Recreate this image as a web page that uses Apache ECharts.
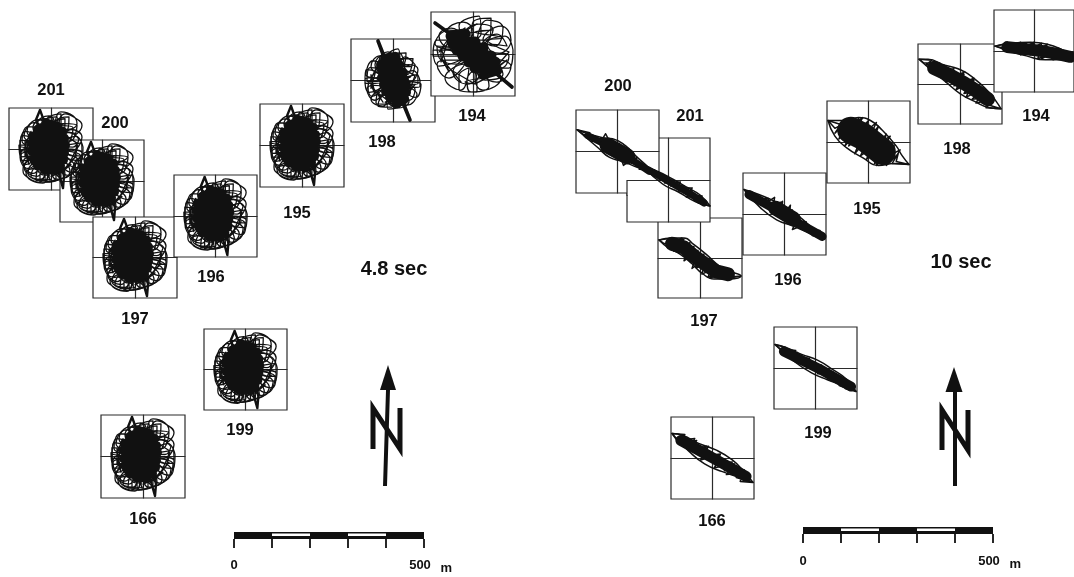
<!DOCTYPE html>
<html>
<head>
<meta charset="utf-8">
<style>html,body{margin:0;padding:0;background:#fff}#c{width:1074px;height:577px}</style>
<script src="https://cdn.jsdelivr.net/npm/echarts@6/dist/echarts.min.js"></script>
</head>
<body>
<div id="c"></div>
<script>
// ---------- values (x, y pairs, east / north) ----------
const blobRingOuter = [32,2,25,13,13,6,20,-2,31,12,20,20,10,10,19,8,26,24,13,26,6,14,15,16,18,33,5,29,2,15,10,22,10,36,-4,30,-3,14,4,24,-2,34,-14,25,-8,12,-4,22,-13,30,-24,18,-11,7,-12,18,-23,23,-29,8,-13,3,-19,11,-29,14,-31,-2,-14,-2,-21,4,-32,4,-28,-12,-13,-6,-22,-3,-31,-8,-23,-20,-10,-10,-20,-11,-27,-19,-14,-28,-6,-13,-15,-17,-20,-28,-5,-32,-2,-15,-11,-23,-11,-34,5,-30,3,-14,-2,-24,0,-33,14,-26,8,-11,5,-22,11,-30,24,-18,11,-7,13,-19,22,-24,30,-8,13,-2,20,-11,30,-12,32,2];
const blobRingInner = [28,10,18,17,8,8,16,6,22,22,9,24,3,12,12,13,14,31,2,26,-1,12,7,18,6,33,-8,27,-5,11,1,20,-6,31,-18,22,-9,9,-8,20,-17,27,-27,13,-12,5,-16,14,-26,18,-31,3,-13,1,-20,7,-31,9,-30,-8,-13,-4,-21,1,-30,-4,-26,-16,-12,-8,-21,-8,-28,-14,-18,-25,-8,-12,-17,-14,-23,-25,-10,-31,-4,-14,-13,-20,-15,-32,0,-31,1,-15,-6,-24,-5,-34,10,-28,6,-12,1,-23,6,-31,19,-23,10,-9,9,-20,17,-27,28,-13,12,-4,16,-15,27,-19,31,-4,13,0,21,-7,31,-7,30,6,14,3,22,2,28,10];
const blobPetals = [24,14,31,24,24,32,14,36,8,26,16,20,26,26,22,34,10,38,4,28,0,10,-24,-12,-28,-22,-22,-30,-12,-34,-6,-24,-14,-20,-25,-24,-20,-32,-8,-35,-3,-26];
const blobMesh = [26,6,8,18,24,16,-2,24,14,26,-12,20,2,30,-20,14,-10,26,-26,4,-20,18,-26,-8,-26,8,-22,-16,-26,-4,-12,-24,-20,-14,-2,-27,-10,-26,10,-24,0,-28,20,-16,10,-24,26,-6,18,-16,27,4,24,-8,26,6];
const blobSpike = [-11,40,-15,30,-10,18,-4,6,0,0,5,-8,7,-22,12,-40,13,-28,11,-18,6,-6,0,2,-4,14,-6,26,-11,40];
const blobCore = [-5,26,6,23,-13,20,11,18,-18,13,13,11,-19,6,14,4,-19,-2,13,-4,-17,-10,12,-11,-13,-17,9,-17,-6,-21,4,-21];

const s198Ring = [27,0,20,10,10,4,16,-2,25,11,15,16,7,9,14,6,20,22,8,22,3,12,10,14,13,28,2,24,0,12,7,18,5,32,-6,24,-3,11,2,20,-5,29,-14,20,-8,8,-4,18,-13,25,-22,14,-10,5,-11,14,-20,20,-27,6,-12,2,-17,9,-27,11,-28,-3,-12,-2,-20,3,-28,1,-24,-12,-11,-6,-19,-5,-26,-9,-18,-20,-8,-9,-17,-12,-22,-19,-10,-26,-4,-12,-12,-17,-15,-26,-1,-27,0,-13,-6,-20,-5,-29,8,-24,4,-11,1,-20,4,-28,16,-21,8,-8,8,-18,14,-25,24,-14,11,-5,14,-13,23,-17,28,-4,11,-1,19,-7,27,-6,27,0];
const s198Ring2 = [22,16,12,24,5,10,12,10,6,28,-4,20,-2,8,0,16,-9,26,-18,16,-8,4,-10,10,-23,13,-26,-1,-10,0,-16,3,-25,-6,-21,-16,-8,-6,-14,-9,-17,-23,-6,-24,-2,-10,-6,-16,1,-26,11,-22,5,-8,5,-14,16,-20,22,-9,9,-2,14,-4,25,-3,24,6,10,3,16,3,22,16];
const s198Mesh = [22,5,6,14,18,14,-2,22,10,22,-10,18,-2,26,-18,10,-10,22,-22,2,-16,14,-22,-8,-22,6,-18,-14,-22,-4,-10,-22,-16,-12,0,-24,-8,-22,8,-20,2,-24,16,-14,8,-20,22,-4,16,-12,22,5];
const s198Spike = [-15,40,-8,22,0,2,8,-18,17,-40,6,-12,-4,10,-15,40];
const s198Core = [-8,22,2,24,-12,16,6,16,-11,10,10,8,-11,3,11,1,-9,-4,13,-5,-7,-11,13,-12,-3,-17,11,-19,3,-23];

const s194Ring = [40,4,32,18,14,10,24,0,38,14,28,28,10,14,22,8,30,26,14,34,4,14,16,14,18,36,0,32,-2,14,8,20,6,38,-14,28,-6,12,0,22,-10,32,-26,22,-10,8,-12,20,-24,24,-38,10,-14,4,-20,14,-36,14,-40,-2,-14,-2,-26,4,-40,4,-34,-12,-12,-6,-26,-6,-36,-10,-24,-24,-8,-10,-20,-14,-28,-24,-12,-36,-4,-14,-14,-22,-14,-36,4,-38,2,-16,-6,-26,-2,-38,16,-32,6,-12,2,-24,10,-36,28,-24,10,-8,12,-22,24,-28,38,-12,14,-4,20,-14,36,-14,40,4];
const s194Ring2 = [34,8,24,20,8,6,18,2,36,-2,28,-14,6,-4,20,-8,30,-20,12,-26,0,-6,8,-16,-6,-30,-20,-18,-4,-2,-14,-10,-32,-6,-36,8,-8,6,-22,6,-34,18,-22,26,-2,8,-10,16,6,30,20,24,4,4,14,10,34,8];
const s194Mesh = [36,2,14,14,30,16,2,22,20,24,-14,20,4,30,-26,12,-8,26,-34,2,-24,16,-32,-8,-32,6,-24,-18,-32,-4,-12,-28,-22,-16,2,-30,-8,-28,14,-24,2,-30,26,-16,12,-24,34,-6,22,-14,36,2];
const s194Spike = [-38,31,-20,18,0,0,20,-17,39,-33];
const s194Core = [-22,18,-8,20,-20,10,2,12,-16,4,10,6,-10,-2,18,-2,-4,-8,22,-8,2,-14,24,-16,10,-20];

const t200Orbit = [-41,22,-28,19,-34,16,-20,15,-26,10,-14,14,-16,4,-6,12,-8,-2,2,8,2,-6,12,2,8,-10,20,-6,14,-12,28,-14,22,-18,36,-19,30,-21,41,-24,28,-19,14,-8,6,-14,0,4,-8,10,-12,18,-18,8,-30,14,-41,22];
const t200Edge = [-41,22,-30,18,-15,14,-5,13,8,6,20,-6,41,-24,20,-16,5,-10,-8,-6,-20,4,-41,22];
const t200Core = [-30,16,-14,8,0,1,14,-8,32,-20];
const t200Hub = [-10,6,10,-5];
const t201Orbit = [-25,13,-14,10,-18,6,-4,4,-8,0,6,-1,2,-6,16,-6,10,-11,24,-11,18,-17,32,-17,26,-20,42,-26,30,-23,34,-16,20,-15,24,-8,8,-8,12,-2,-4,-3,-2,4,-18,8,-25,13];
const t201Edge = [-25,13,-12,9,4,1,20,-8,32,-15,42,-26,28,-22,10,-12,-6,-4,-25,13];
const t201Core = [-20,10,-4,1,10,-7,24,-15,36,-23];
const t197Orbit = [-41,19,-28,21,-32,14,-18,21,-26,7,-10,16,-16,-3,-2,8,-8,-11,6,0,2,-17,16,-10,10,-21,26,-15,20,-21,41,-19,24,-22,28,-14,8,-20,14,-6,-4,-10,4,4,-12,0,-6,12,-24,8,-16,20,-36,15,-41,19];
const t197Edge = [-41,19,-28,21,-16,21,-6,14,6,4,20,-9,30,-14,41,-19,28,-22,14,-22,2,-16,-8,-6,-20,4,-32,11,-41,19];
const t197Core = [-28,15,-16,11,-6,2,6,-7,16,-14,28,-17];
const t196Orbit = [-41,25,-30,19,-34,16,-18,15,-22,9,-10,17,-12,4,-2,13,-3,-3,6,9,4,-8,14,-1,8,-16,22,-10,16,-14,32,-18,26,-20,41,-25,28,-22,36,-17,18,-16,22,-8,4,-10,8,4,-6,-2,-4,12,-18,6,-16,16,-32,15,-41,25];
const t196Edge = [-41,25,-26,20,-12,14,0,8,14,-2,30,-16,41,-25,24,-19,8,-12,-8,-6,-24,6,-41,25];
const t196Core = [-36,20,-20,11,-6,3,8,-6,24,-15,38,-23];
const t196Hub = [-9,6,9,-5];
const t195Orbit = [-41,22,-28,18,-34,9,-22,21,-30,3,-10,24,-24,-4,0,22,-14,-12,10,16,-2,-18,18,8,8,-24,26,-4,18,-24,30,-12,28,-20,41,-23,24,-22,32,-8,6,-22,22,6,-8,-14,8,20,-20,-4,-6,25,-30,8,-16,24,-34,14,-41,22];
const t195Edge = [-41,22,-24,22,-10,25,2,22,14,12,28,-4,34,-14,41,-23,26,-22,10,-24,-6,-16,-22,-6,-34,6,-41,22];
const t195Core = [-18,12,-6,6,4,-2,14,-10];
const t198Orbit = [-41,26,-28,25,-34,20,-16,20,-24,12,-6,16,-14,6,4,12,-6,-2,14,6,4,-10,22,-6,12,-16,30,-14,22,-20,41,-26,26,-25,34,-16,16,-20,24,-4,6,-14,14,4,-4,-6,4,10,-14,2,-8,14,-26,12,-20,22,-36,22,-41,26];
const t198Edge = [-41,26,-32,26,-16,20,-2,16,14,6,30,-10,36,-18,41,-26,30,-25,14,-18,0,-10,-14,2,-28,14,-41,26];
const t198Core = [-26,17,-10,9,4,1,16,-7,28,-16];
const t194Orbit = [-41,5,-28,8,-30,2,-14,9,-18,0,0,9,-4,-4,14,7,8,-8,26,3,20,-9,40,-2,30,-9,42,-8,24,-8,28,2,4,-8,8,8,-14,-4,-8,8,-32,3,-41,5];
const t194Edge = [-41,5,-24,8,-4,9,14,7,30,1,42,-6,30,-9,12,-9,-8,-5,-26,0,-41,5];
const t194Core = [-28,4,-10,2,8,0,24,-3,38,-6];
const t199Orbit = [-41,24,-30,21,-32,15,-18,16,-22,9,-6,10,-10,3,6,3,2,-4,18,-4,12,-11,30,-12,24,-18,41,-24,30,-21,32,-14,16,-13,20,-6,2,-6,6,2,-12,4,-8,10,-24,12,-20,18,-36,20,-41,24];
const t199Edge = [-41,24,-30,21,-14,14,2,8,18,-2,32,-12,41,-24,28,-18,12,-12,-4,-5,-22,7,-41,24];
const t199Core = [-32,17,-14,8,4,-1,20,-10,36,-19];
const t166Orbit = [-41,25,-28,24,-33,16,-16,18,-22,8,-4,12,-10,2,8,4,2,-6,20,-4,12,-13,32,-12,24,-20,41,-25,28,-24,32,-15,14,-17,22,-6,2,-10,8,4,-12,-2,-6,12,-24,8,-18,20,-36,18,-41,25];
const t166Edge = [-41,25,-30,23,-14,15,4,8,20,-2,32,-14,41,-25,28,-20,10,-14,-8,-6,-24,7,-41,25];
const t166Core = [-32,18,-14,8,4,-2,20,-11,34,-19];

const scaleMetres = [0,100,200,300,400,500];
const scaleFilled = [[0,100],[200,300],[400,500]];
const scaleHollow = [[100,200],[300,400]];

// ---------- layout: frame [left, top, width, height], label centre, orbit lists ----------
const blobSet = {smooth:[blobRingOuter,blobRingInner,blobPetals,blobMesh], spike:blobSpike, core:blobCore, spikeW:2.4, coreW:10, thin:1.3};
const s198Set = {smooth:[s198Ring,s198Ring2,s198Mesh], spike:s198Spike, core:s198Core, spikeW:3.6, coreW:10, thin:1.3};
const s194Set = {smooth:[s194Ring,s194Ring2,s194Mesh], spike:s194Spike, core:s194Core, spikeW:3.6, coreW:11, thin:1.25};
const tr = (orbit,edge,core,coreW,hub,hubW) => ({straight:[orbit], smooth:[edge], core, coreW, hub, hubW, thin:1.5});

const stations = [
  // left panel, 4.8 sec
  {id:'201',box:[9,108,84,82],label:[51,88],set:blobSet},
  {id:'200',box:[60,140,84,82],label:[115,121],set:blobSet},
  {id:'197',box:[93,217,84,81],label:[135,317],set:blobSet},
  {id:'196',box:[174,175,83,82],label:[211,275],set:blobSet},
  {id:'195',box:[260,104,84,83],label:[297,211],set:blobSet},
  {id:'198',box:[351,39,84,83],label:[382,140],set:s198Set},
  {id:'194',box:[431,12,84,84],label:[472,114],set:s194Set},
  {id:'199',box:[204,329,83,81],label:[240,428],set:blobSet},
  {id:'166',box:[101,415,84,83],label:[143,517],set:blobSet},
  // right panel, 10 sec
  {id:'197',box:[658,218,84,80],label:[704,319],set:tr(t197Orbit,t197Edge,t197Core,14)},
  {id:'201',box:[627,138,83,84],label:[690,114],set:tr(t201Orbit,t201Edge,t201Core,7)},
  {id:'200',box:[576,110,83,83],label:[618,84],set:tr(t200Orbit,t200Edge,t200Core,7,t200Hub,16)},
  {id:'196',box:[743,173,83,82],label:[788,278],set:tr(t196Orbit,t196Edge,t196Core,9,t196Hub,15)},
  {id:'195',box:[827,101,83,82],label:[867,207],set:tr(t195Orbit,t195Edge,t195Core,27)},
  {id:'198',box:[918,44,84,80],label:[957,147],set:tr(t198Orbit,t198Edge,t198Core,14)},
  {id:'194',box:[994,10,84,82],label:[1036,114],set:tr(t194Orbit,t194Edge,t194Core,12)},
  {id:'199',box:[774,327,83,82],label:[818,431],set:tr(t199Orbit,t199Edge,t199Core,10)},
  {id:'166',box:[671,417,83,82],label:[712,519],set:tr(t166Orbit,t166Edge,t166Core,11)}
];
const panelTitles = [{text:'4.8 sec',at:[394,269]},{text:'10 sec',at:[961,262]}];

const pairs = f => { const o=[]; for(let i=0;i<f.length;i+=2) o.push([f[i],f[i+1]]); return o; };
const INK = '#111', FRAME = '#2b2b2b';

const grid=[], xAxis=[], yAxis=[], series=[], graphic=[];
const line=(g,data,w,smooth,z,cap)=>series.push({type:'line',xAxisIndex:g,yAxisIndex:g,data,showSymbol:false,symbol:'none',
  smooth:smooth?0.5:false,clip:false,silent:true,z,lineStyle:{color:INK,width:w,cap:cap||'round',join:'round'},animation:false});

stations.forEach((s,i)=>{
  const [l,t,w,h]=s.box, z=i+1;
  grid.push({left:l,top:t,width:w,height:h,show:true,backgroundColor:'#fff',borderColor:FRAME,borderWidth:1.2,z,containLabel:false});
  const ax={type:'value',gridIndex:i,min:-42,max:42,z,silent:true,
    axisLine:{show:true,onZero:true,lineStyle:{color:FRAME,width:1.2}},axisTick:{show:false},axisLabel:{show:false},splitLine:{show:false}};
  xAxis.push(ax); yAxis.push(Object.assign({},ax));
  (s.set.smooth||[]).forEach(a=>line(i,pairs(a),s.set.thin,true,100));
  (s.set.straight||[]).forEach(a=>line(i,pairs(a),s.set.thin,false,100));
  if(s.set.spike) line(i,pairs(s.set.spike),s.set.spikeW,false,101);
  line(i,pairs(s.set.core),s.set.coreW,false,102);
  if(s.set.hub) line(i,pairs(s.set.hub),s.set.hubW,false,102);
  graphic.push({type:'text',x:s.label[0],y:s.label[1]+2,z:200,silent:true,
    style:{text:s.id,fill:'#111',font:'bold 16.5px "Liberation Sans", Arial, sans-serif',textAlign:'center',textVerticalAlign:'middle'}});
});
panelTitles.forEach(p=>graphic.push({type:'text',x:p.at[0],y:p.at[1],z:200,silent:true,
  style:{text:p.text,fill:'#111',font:'bold 20px "Liberation Sans", Arial, sans-serif',textAlign:'center',textVerticalAlign:'middle'}}));

// Right panel: the lower-right corner of the 200 frame is hidden by the 201 frame
graphic.push({type:'rect',z:50,silent:true,shape:{x:627,y:181,width:34,height:14},style:{fill:'#fff'}});
graphic.push({type:'polyline',z:51,silent:true,shape:{points:[[627,196],[627,180.5],[661,180.5]]},style:{stroke:FRAME,lineWidth:1.2,fill:null}});

// Scale bars: a real 0-500 m axis per panel
[{l:234,t:532,w:190,mg:20,m:[452,568]},{l:803,t:527,w:190,mg:21,m:[1021,564]}].forEach(b=>{
  const g=grid.length;
  grid.push({left:b.l,top:b.t,width:b.w,height:7,show:false});
  xAxis.push({type:'value',gridIndex:g,min:0,max:500,interval:100,position:'bottom',
    axisLine:{show:false},splitLine:{show:false},
    axisTick:{show:true,length:9,lineStyle:{color:INK,width:1.8}},
    axisLabel:{show:true,margin:b.mg,color:'#111',fontFamily:'"Liberation Sans", Arial, sans-serif',fontWeight:'bold',fontSize:13,
      formatter:v=>v===0?'{a|0}':(v===scaleMetres[5]?'{b|500}':''),
      rich:{a:{fontWeight:'bold',fontSize:13,color:'#111'},b:{fontWeight:'bold',fontSize:13,color:'#111',padding:[0,8,0,0]}}}});
  yAxis.push({type:'value',gridIndex:g,min:0,max:1,show:false});
  scaleFilled.forEach(seg=>line(g,seg.map(x=>[x,0.5]),7,false,100,'butt'));
  scaleHollow.forEach(seg=>{ line(g,seg.map(x=>[x,0.5]),7,false,100,'butt'); line(g,seg.map(x=>[x,0.6]),2.5,false,101,'butt');
    series[series.length-1].lineStyle.color='#fff';});
  graphic.push({type:'text',x:b.m[0],y:b.m[1],z:200,silent:true,style:{text:'m',fill:'#111',font:'bold 13px "Liberation Sans", Arial, sans-serif',textAlign:'right',textVerticalAlign:'middle'}});
});

// North arrows
[{tip:[388,365],hw:8,base:390,top:[388,390],bot:[385,486],n:[[373,449],[373,408],[400,449],[400,408]]},
 {tip:[954,367],hw:8.5,base:392,top:[955,392],bot:[955,486],n:[[942,450],[942,410],[968,450],[968,410]]}].forEach(a=>{
  graphic.push({type:'polygon',z:60,silent:true,shape:{points:[a.tip,[a.tip[0]-a.hw,a.base],[a.tip[0]+a.hw,a.base]]},style:{fill:INK}});
  graphic.push({type:'line',z:60,silent:true,shape:{x1:a.top[0],y1:a.top[1],x2:a.bot[0],y2:a.bot[1]},style:{stroke:INK,lineWidth:4}});
  graphic.push({type:'polyline',z:60,silent:true,shape:{points:a.n},style:{stroke:INK,lineWidth:5,fill:null,lineJoin:'miter'}});
});

const chart=echarts.init(document.getElementById('c'),null,{renderer:'canvas'});
chart.setOption({animation:false,backgroundColor:'#fff',grid,xAxis,yAxis,series,graphic:{elements:graphic},tooltip:{show:false}});
</script>
</body>
</html>
